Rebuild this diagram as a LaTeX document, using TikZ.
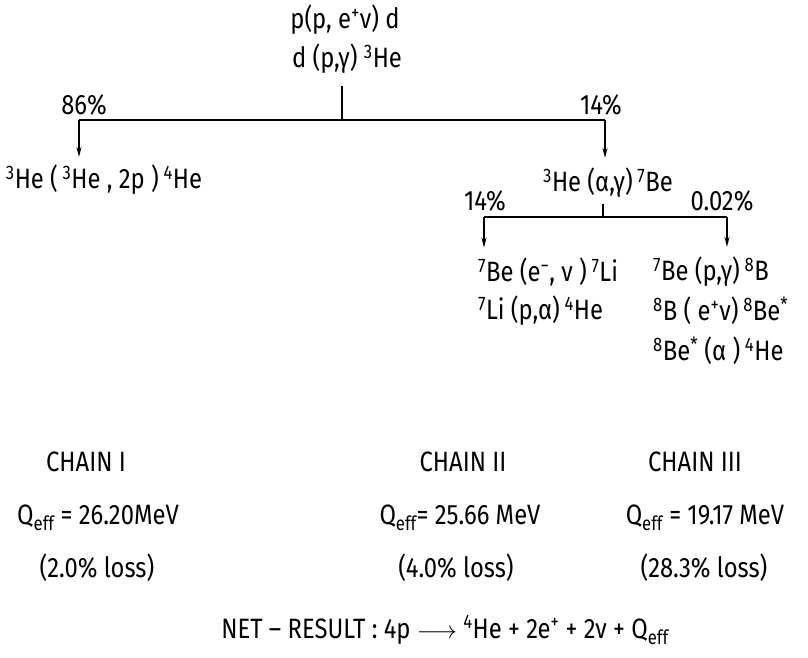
\documentclass[tikz,border=0pt]{standalone}
\usepackage{fontspec}
\setmainfont{Fira Sans}[FakeStretch=0.85]
\usetikzlibrary{arrows.meta}

\begin{document}
\begin{tikzpicture}[x=1pt, y=-1pt,
    reaction/.style={inner sep=0pt, font=\fontsize{28}{32}\selectfont},
    branch/.style={line width=1.6pt},
    feed/.style={line width=1.6pt, -{Stealth[length=10pt, width=5pt]}}]

    % Fix the page to the size of the reference
    \useasboundingbox (0,0) rectangle (808,657);

    % Draw the pp start reactions
    \node[reaction] (ppd) at (345,20) {p(p, e\textsuperscript{+}ν) d};
    \node[reaction] (dpg) at (347,59) {d (p,γ) \textsuperscript{3}He};

    % Draw the first split
    \coordinate (split1) at (342,120);
    \coordinate (left1) at (79,120);
    \coordinate (right1) at (605,120);
    \draw[branch, shorten <=12pt] (dpg.south -| split1) -- (split1);
    \draw[branch] (left1) -- (right1);
    \node[reaction, anchor=south] (pc86) at (84,116) {86\%};
    \node[reaction, anchor=south] (pc14a) at (601,116) {14\%};

    % Chain I and the 3He + 4He branch
    \node[reaction] (hehe) at (104,180) {\textsuperscript{3}He (\,\textsuperscript{3}He , 2p )\,\textsuperscript{4}He};
    \node[reaction] (healpha) at (608,183) {\textsuperscript{3}He (α,γ)\,\textsuperscript{7}Be};
    \draw[feed, shorten >=8pt] (left1) -- (left1 |- hehe.north);
    \draw[feed, shorten >=10pt] (right1) -- (right1 |- healpha.north);

    % Draw the second split
    \coordinate (split2) at (603,217);
    \coordinate (left2) at (484,217);
    \coordinate (right2) at (727,217);
    \draw[branch, shorten <=6pt] (healpha.south -| split2) -- (split2);
    \draw[branch] (left2) -- (right2);
    \node[reaction, anchor=south] (pc14b) at (485,212) {14\%};
    \node[reaction, anchor=south] (pc002) at (722,212) {0.02\%};

    % Chain II
    \node[reaction, anchor=west] (bee) at (478,272) {\textsuperscript{7}Be (e\textsuperscript{−}, ν )\,\textsuperscript{7}Li};
    \node[reaction, anchor=west] (lip) at (478,311) {\textsuperscript{7}Li (p,α)\,\textsuperscript{4}He};
    \draw[feed, shorten >=10pt] (left2) -- (left2 |- bee.north);

    % Chain III
    \node[reaction, anchor=west] (bep) at (653,272) {\textsuperscript{7}Be (p,γ)\,\textsuperscript{8}B};
    \node[reaction, anchor=west] (bdecay) at (653,311) {\textsuperscript{8}B ( e\textsuperscript{+}ν)\,\textsuperscript{8}Be\textsuperscript{*}};
    \node[reaction, anchor=west] (bealpha) at (653,351) {\textsuperscript{8}Be\textsuperscript{*} (α )\,\textsuperscript{4}He};
    \draw[feed, shorten >=10pt] (right2) -- (right2 |- bep.north);

    % Energy yield of the chains
    \node[reaction] (chain1) at (86,462) {CHAIN I};
    \node[reaction] (chain2) at (463,462) {CHAIN II};
    \node[reaction] (chain3) at (695,462) {CHAIN III};
    \node[reaction] (q1) at (98,518) {Q\textsubscript{eff} = 26.20MeV};
    \node[reaction] (q2) at (460,518) {Q\textsubscript{eff}= 25.66 MeV};
    \node[reaction] (q3) at (705,518) {Q\textsubscript{eff} = 19.17 MeV};
    \node[reaction] (loss1) at (97,568) {(2.0\% loss)};
    \node[reaction] (loss2) at (456,568) {(4.0\% loss)};
    \node[reaction] (loss3) at (704,568) {(28.3\% loss)};

    % Net result
    \node[reaction] (net) at (445,630) {NET -- RESULT :\ 4p $\longrightarrow$ \textsuperscript{4}He + 2e\textsuperscript{+} + 2ν\ +\ Q\textsubscript{eff}};

\end{tikzpicture}
\end{document}
